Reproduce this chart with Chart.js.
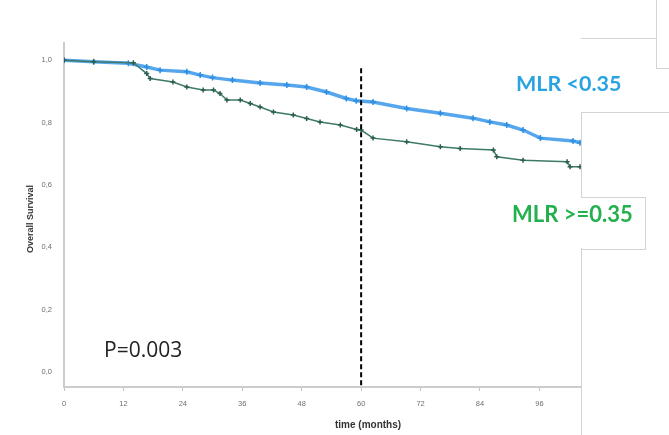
<!DOCTYPE html>
<html>
<head>
<meta charset="utf-8">
<script src="https://cdn.jsdelivr.net/npm/chart.js@4/dist/chart.umd.min.js"></script>
<style>
  body { margin: 0; background: #fff; }
  #wrap { position: relative; width: 669px; height: 435px; }
  canvas { position: absolute; left: 0; top: 0; }
  .txt { position: absolute; white-space: nowrap; }
  .box { position: absolute; border-color: #d4d4d4; border-style: solid; border-width: 0; }
</style>
</head>
<body>
<div id="wrap">
  <canvas id="kmChart" width="669" height="435"></canvas>

  <!-- leftover slide box outlines -->
  <div class="box" style="left:581px;top:0;width:75px;height:38px;border-right-width:1px;border-bottom-width:1px;"></div>
  <div class="box" style="left:656px;top:38px;width:13px;height:30px;border-left-width:1px;border-bottom-width:1px;"></div>
  <div class="box" style="left:581px;top:112px;width:88px;height:85px;border-left-width:1px;border-top-width:1px;"></div>
  <div class="box" style="left:581px;top:197px;width:64px;height:51px;border-top-width:1px;border-right-width:1px;border-bottom-width:1px;"></div>
  <div class="box" style="left:581px;top:248px;width:0;height:187px;border-left-width:1px;"></div>

  <div class="txt" style="left:516px;top:70px;font:bold 21.5px Lato;color:#2aa3e2;">MLR &lt;0.35</div>
  <div class="txt" style="left:512px;top:200px;font:bold 22px Lato;color:#23b04e;">MLR &gt;=0.35</div>
  <div class="txt" style="left:104px;top:335px;font:21px 'Open Sans';color:#222;">P=0.003</div>
  <div class="txt" style="left:335px;top:419px;font:bold 10px 'Liberation Sans';color:#333;">time (months)</div>
  <div class="txt" style="left:30px;top:219px;font:bold 9px 'Liberation Sans';color:#333;transform:translate(-50%,-50%) rotate(-90deg);">Overall Survival</div>
</div>
<script>
// MLR < 0.35
let blueTimes = [0, 6, 13, 16.7, 19.4, 24.8, 27.5, 30, 34, 39.6, 45, 49, 53, 57, 59, 62.4, 69.2, 76, 82.6, 86, 89.4, 92.7, 96.2, 102.8, 104.2];
let blueSurv = [1.0, 0.995, 0.99, 0.978, 0.968, 0.963, 0.952, 0.944, 0.936, 0.927, 0.92, 0.914, 0.898, 0.877, 0.87, 0.866, 0.845, 0.83, 0.814, 0.802, 0.792, 0.776, 0.75, 0.741, 0.735];

// MLR >= 0.35
let greenTimes = [0, 6, 14, 16.7, 17.4, 22, 24.8, 28.1, 30.2, 31.5, 32.9, 35.6, 37.6, 39.6, 42.3, 46.3, 49, 51.7, 55.8, 59.1, 60, 62.4, 69.2, 76, 80, 86.7, 87.4, 92.7, 101.6, 102.2, 104.2];
let greenSurv = [1.0, 0.995, 0.992, 0.957, 0.941, 0.93, 0.914, 0.904, 0.904, 0.893, 0.872, 0.872, 0.861, 0.85, 0.834, 0.824, 0.813, 0.802, 0.792, 0.778, 0.776, 0.75, 0.738, 0.722, 0.717, 0.712, 0.69, 0.679, 0.674, 0.658, 0.658];

let xTicks = [0, 12, 24, 36, 48, 60, 72, 84, 96];
let yTicks = [0, 0.2, 0.4, 0.6, 0.8, 1.0];
let cutoffMonth = 60;

function toPoints(xs, ys) {
  return xs.map((x, i) => ({ x: x, y: ys[i] }));
}

let ctx = document.getElementById("kmChart").getContext("2d");
new Chart(ctx, {
  type: "line",
  data: {
    datasets: [
      {
        label: "cutoff",
        data: [{ x: cutoffMonth, y: -0.042 }, { x: cutoffMonth, y: 0.984 }],
        borderColor: "#000",
        borderWidth: 2,
        borderDash: [5, 3],
        pointRadius: 0,
      },
      {
        label: "MLR >=0.35",
        data: toPoints(greenTimes, greenSurv),
        borderColor: "#3f7a68",
        borderWidth: 1.5,
        pointStyle: "cross",
        pointRadius: 2.5,
        pointBorderWidth: 1.5,
        pointBorderColor: "#2b5e4e",
      },
      {
        label: "MLR <0.35",
        data: toPoints(blueTimes, blueSurv),
        borderColor: "#55a6ec",
        borderWidth: 3.5,
        pointStyle: "cross",
        pointRadius: 3,
        pointBorderWidth: 1.5,
        pointBorderColor: "#2e8fe2",
      },
    ],
  },
  options: {
    responsive: false,
    animation: false,
    layout: { padding: { left: 0, top: 43, right: 88, bottom: 0 } },
    plugins: { legend: { display: false }, tooltip: { enabled: false } },
    scales: {
      x: {
        type: "linear",
        min: 0,
        max: 104.4,
        afterBuildTicks: (scale) => {
          scale.ticks = xTicks.map((v) => ({ value: v }));
        },
        afterFit: (scale) => {
          scale.height = 48;
        },
        grid: { display: true, drawOnChartArea: false, tickLength: 4, color: "#c4c4c4" },
        border: { color: "#cccccc", width: 2 },
        ticks: { color: "#6f6f6f", font: { size: 7.5, family: "Liberation Sans" }, padding: 8, maxRotation: 0 },
      },
      y: {
        min: -0.048,
        max: 1.055,
        afterBuildTicks: (scale) => {
          scale.ticks = yTicks.map((v) => ({ value: v }));
        },
        afterFit: (scale) => {
          scale.width = 64;
        },
        grid: { display: false },
        border: { color: "#cccccc", width: 2 },
        ticks: {
          color: "#6f6f6f",
          font: { size: 7.5, family: "Liberation Sans" },
          padding: 4,
          callback: (v) => v.toFixed(1).replace(".", ","),
        },
      },
    },
  },
});
</script>
</body>
</html>
